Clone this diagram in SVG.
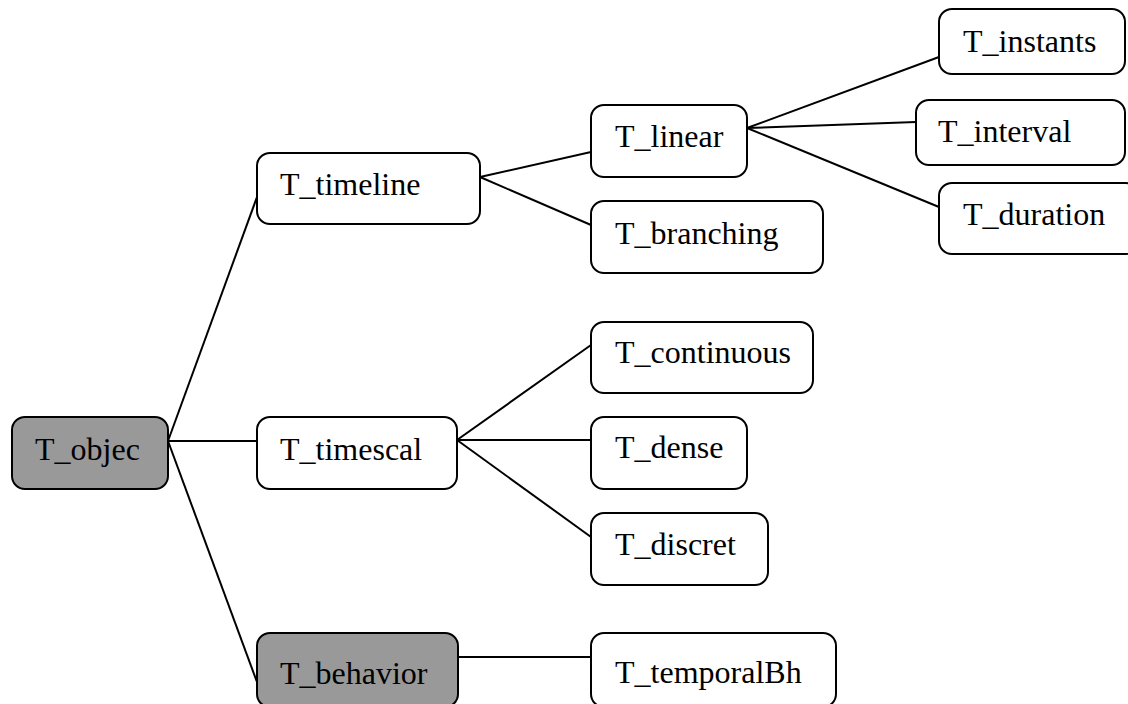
<svg xmlns="http://www.w3.org/2000/svg" width="1128" height="704" viewBox="0 0 1128 704">
<style>
.box{fill:#ffffff;stroke:#000000;stroke-width:2}
.grey{fill:#999999}
.lbl{font-family:"Liberation Serif","Times New Roman",serif;font-size:32px;fill:#000000}
.conn line{stroke:#000000;stroke-width:2}
</style>
<rect width="1128" height="704" fill="#ffffff"/>
<g id="connectors" class="conn">
<line x1="168" y1="441" x2="257" y2="197"/>
<line x1="168" y1="441" x2="257" y2="441"/>
<line x1="168" y1="441" x2="257" y2="682"/>
<line x1="480" y1="177" x2="591" y2="152"/>
<line x1="480" y1="177" x2="591" y2="225"/>
<line x1="747" y1="128" x2="939" y2="57"/>
<line x1="747" y1="128" x2="916" y2="122"/>
<line x1="747" y1="128" x2="939" y2="207"/>
<line x1="457" y1="440" x2="591" y2="345"/>
<line x1="457" y1="440" x2="591" y2="440"/>
<line x1="457" y1="440" x2="591" y2="537"/>
<line x1="458" y1="657" x2="591" y2="657"/>
</g>
<g id="T_objec"><rect class="box grey" x="12" y="417" width="156" height="72" rx="13"/><text class="lbl" x="35" y="460">T_objec</text></g>
<g id="T_timeline"><rect class="box" x="257" y="153" width="223" height="71" rx="13"/><text class="lbl" x="280" y="195">T_timeline</text></g>
<g id="T_timescal"><rect class="box" x="257" y="417" width="200" height="72" rx="13"/><text class="lbl" x="280" y="460">T_timescal</text></g>
<g id="T_behavior"><rect class="box grey" x="257" y="633" width="201" height="74" rx="13"/><text class="lbl" x="280" y="684">T_behavior</text></g>
<g id="T_linear"><rect class="box" x="591" y="105" width="156" height="72" rx="13"/><text class="lbl" x="615" y="147">T_linear</text></g>
<g id="T_branching"><rect class="box" x="591" y="201" width="232" height="72" rx="13"/><text class="lbl" x="615" y="244">T_branching</text></g>
<g id="T_continuous"><rect class="box" x="591" y="322" width="222" height="71" rx="13"/><text class="lbl" x="615" y="363">T_continuous</text></g>
<g id="T_dense"><rect class="box" x="591" y="417" width="156" height="72" rx="13"/><text class="lbl" x="615" y="458">T_dense</text></g>
<g id="T_discret"><rect class="box" x="591" y="513" width="177" height="72" rx="13"/><text class="lbl" x="615" y="555">T_discret</text></g>
<g id="T_temporalBh"><rect class="box" x="591" y="633" width="245" height="74" rx="13"/><text class="lbl" x="615" y="683">T_temporalBh</text></g>
<g id="T_instants"><rect class="box" x="939" y="9" width="186" height="65" rx="13"/><text class="lbl" x="963" y="52">T_instants</text></g>
<g id="T_interval"><rect class="box" x="916" y="100" width="209" height="65" rx="13"/><text class="lbl" x="938" y="142">T_interval</text></g>
<g id="T_duration"><rect class="box" x="939" y="183" width="200" height="71" rx="13"/><text class="lbl" x="963" y="225">T_duration</text></g>
</svg>
